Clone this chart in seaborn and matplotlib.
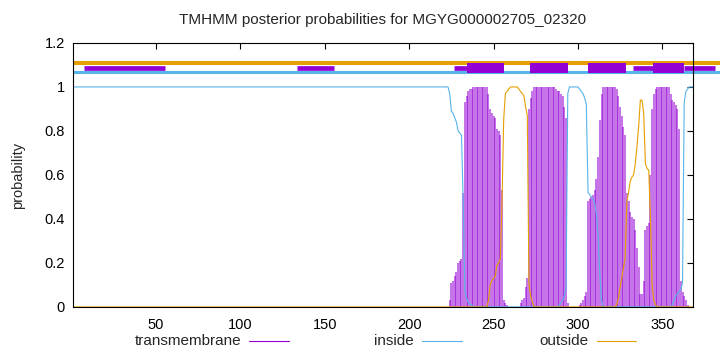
import pandas as pd
import matplotlib.pyplot as plt
import seaborn as sns

# TMHMM posterior probabilities, residues 1..368
# residues 1-220 are flat: inside = 1, outside = 0, transmembrane = 0
inside_tail = ([1.00, 1.00, 1.00, 0.97, 0.89, 0.88, 0.86, 0.84, 0.80, 0.79,   # 221-230
                0.78, 0.48, 0.07, 0.04, 0.02, 0.01, 0.01]                     # 231-237
               + [0.0] * 51                                                   # 238-288
               + [0.01, 0.02, 0.03, 0.05, 0.09, 0.97, 1.00, 1.00, 1.00, 1.00,  # 289-298
                  1.00, 1.00, 0.99, 0.98, 0.97, 0.95, 0.92, 0.52, 0.51, 0.50,  # 299-308
                  0.49, 0.47, 0.42, 0.32, 0.15, 0.03, 0.00]                  # 309-315
               + [0.0] * 40                                                   # 316-355
               + [0.01, 0.03, 0.05, 0.06, 0.07, 0.08, 0.11, 0.93, 0.98, 0.99,
                  1.00, 1.00, 1.00])                                          # 356-368

outside_tail = ([0.0] * 26                                                    # 221-246
                + [0.03, 0.10, 0.12, 0.13, 0.14, 0.19, 0.20, 0.22, 0.47, 0.85,  # 247-256
                   0.97, 0.98, 0.99, 1.00, 1.00, 1.00, 1.00, 1.00, 0.99, 0.98,  # 257-266
                   0.97, 0.96, 0.91, 0.87, 0.10, 0.05, 0.02]                  # 267-273
                + [0.0] * 49                                                  # 274-322
                + [0.01, 0.04, 0.09, 0.13, 0.18, 0.22, 0.48, 0.52, 0.57, 0.59,  # 323-332
                   0.60, 0.65, 0.73, 0.82, 0.94, 0.94, 0.88, 0.65, 0.63, 0.62,  # 333-342
                   0.40, 0.10, 0.03, 0.01]                                    # 343-346
                + [0.0] * 22)                                                 # 347-368

tm_tail = ([0.0, 0.0, 0.0, 0.03, 0.11, 0.12, 0.14, 0.16, 0.20, 0.21,          # 221-230
           0.22, 0.52, 0.93, 0.96, 0.98, 0.99, 0.99]                          # 231-237
           + [1.0] * 9                                                        # 238-246
           + [0.97, 0.90, 0.88, 0.87, 0.86, 0.81, 0.80, 0.78, 0.53, 0.03,     # 247-256
              0.02, 0.01]                                                     # 257-258
           + [0.0] * 7                                                        # 259-265
           + [0.02, 0.03, 0.04, 0.09, 0.13, 0.90, 0.95, 0.98]                 # 266-273
           + [1.0] * 13                                                       # 274-286
           + [0.99, 0.98, 0.98, 0.97, 0.96, 0.91, 0.86, 0.02]                 # 287-294
           + [0.0] * 6                                                        # 295-300
           + [0.01, 0.02, 0.03, 0.05, 0.07, 0.48, 0.49, 0.50, 0.51, 0.53,     # 301-310
              0.58, 0.68, 0.85, 0.97]                                         # 311-314
           + [1.0] * 8                                                        # 315-322
           + [0.99, 0.96, 0.91, 0.87, 0.82, 0.78, 0.52, 0.48, 0.43, 0.41,     # 323-332
              0.40, 0.35, 0.27, 0.18, 0.06, 0.06, 0.12, 0.35, 0.37, 0.38,     # 333-342
              0.60, 0.90, 0.97, 0.99]                                         # 343-346
           + [1.0] * 8                                                        # 347-354
           + [0.97, 0.94, 0.93, 0.92, 0.90, 0.81, 0.12, 0.07, 0.05, 0.03,
              0.01, 0.0, 0.0, 0.0])                                           # 355-368

seq_len = 368
inside = [1.0] * 220 + inside_tail
outside = [0.0] * 220 + outside_tail
transmembrane = [0.0] * 220 + tm_tail

# predicted topology band on top (residue ranges)
band_thick = [(234.5, 256.2), (271.7, 293.9), (305.7, 328.5), (344.3, 363.1)]
band_thin = [(7, 55.3), (133.5, 155.3), (226.5, 234.5), (332.5, 344.3), (363.1, 381)]
band_end = 385

title = 'TMHMM posterior probabilities for MGYG000002705_02320'

C_TM = '#9400D3'
C_IN = '#56B4E9'
C_OUT = '#E69F00'

df = pd.DataFrame({
    'pos': list(range(1, seq_len + 1)),
    'inside': inside,
    'outside': outside,
    'transmembrane': transmembrane,
})

sns.set_theme(style="white")
plt.rcParams['font.family'] = ['Liberation Sans', 'DejaVu Sans']

fig = plt.figure(figsize=(7.2, 3.52), dpi=100)
ax = fig.add_axes([0.102, 0.128, 0.86, 0.75])

# transmembrane impulses
tm = df[df['transmembrane'] > 0]
ax.vlines(tm['pos'], 0, tm['transmembrane'], color=C_TM, lw=1.1, alpha=0.7)

sns.lineplot(data=df, x='pos', y='inside', color=C_IN, lw=0.8, ax=ax)
sns.lineplot(data=df, x='pos', y='outside', color=C_OUT, lw=0.8, ax=ax)

# topology band
ax.hlines(1.107, 1, band_end, color=C_OUT, lw=2.9, clip_on=False)
ax.hlines(1.067, 1, band_end, color=C_IN, lw=2.2, clip_on=False)
for a, b in band_thin:
    ax.hlines(1.085, a, b, color=C_TM, lw=3.4, clip_on=False)
for a, b in band_thick:
    ax.hlines(1.0875, a, b, color=C_TM, lw=7.2, clip_on=False)

ax.set_xlim(1, seq_len)
ax.set_ylim(0, 1.2)
ax.set_xticks([50, 100, 150, 200, 250, 300, 350])
ax.set_yticks([0, 0.2, 0.4, 0.6, 0.8, 1.0, 1.2])
ax.set_yticklabels(['0', '0.2', '0.4', '0.6', '0.8', '1', '1.2'])
ax.tick_params(direction='in', length=4, width=0.8, top=True, right=True,
               labelsize=10.5, colors='black', pad=6)
ax.tick_params(axis='x', pad=8)
for s in ax.spines.values():
    s.set_color('black')
    s.set_linewidth(0.8)
ax.set_xlabel('')
ax.set_ylabel('probability', fontsize=10.5, labelpad=14)

fig.text(0.532, 0.943, title, ha='center', va='center', fontsize=11)

# gnuplot-style key below the plot
key = [('transmembrane', C_TM, 0.335), ('inside', C_IN, 0.575), ('outside', C_OUT, 0.818)]
for label, color, xr in key:
    fig.text(xr, 0.031, label, ha='right', va='center', fontsize=11)
    fig.add_artist(plt.Line2D([xr + 0.011, xr + 0.066], [0.031, 0.031],
                              transform=fig.transFigure, color=color, lw=0.8))

fig.savefig('out.png', dpi=100)
